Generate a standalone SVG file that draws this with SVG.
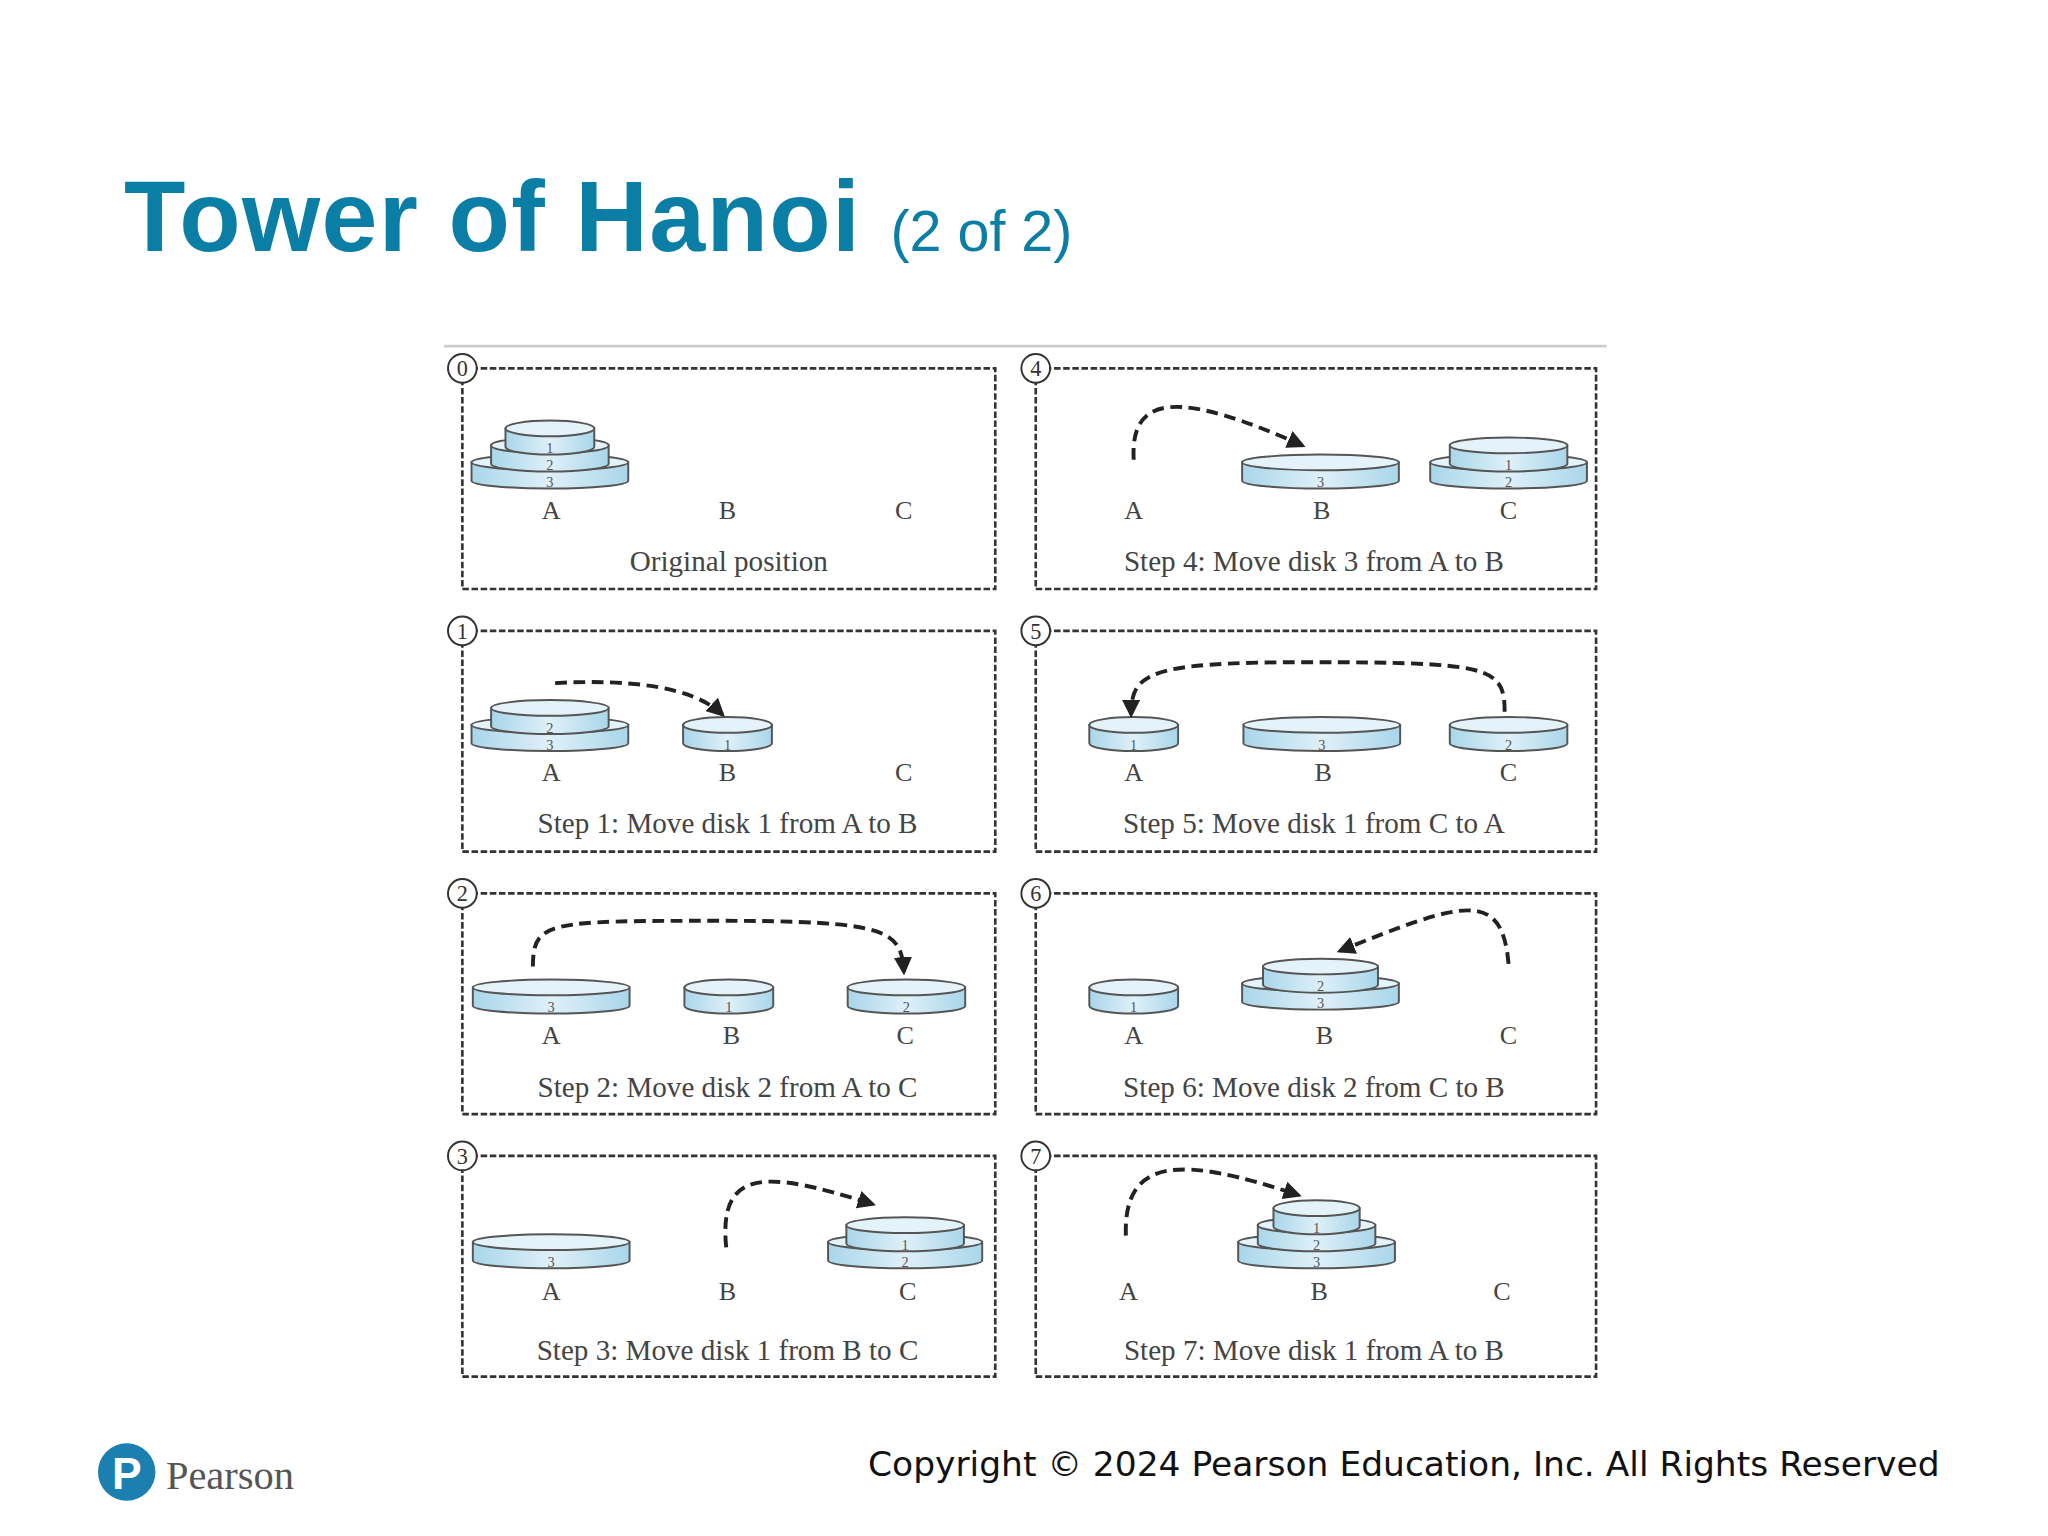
<svg xmlns="http://www.w3.org/2000/svg" width="2048" height="1536" viewBox="0 0 2048 1536">
<style>
.box{fill:none;stroke:#333;stroke-width:2;stroke-dasharray:5 2}
.num circle{fill:#fff;stroke:#333;stroke-width:1.5}
.num text{font-family:"Liberation Serif",serif;font-size:17px;text-anchor:middle;fill:#333}
.lbl{font-family:"Liberation Serif",serif;font-size:20px;text-anchor:middle;fill:#444}
.cap{font-family:"Liberation Serif",serif;font-size:22.3px;text-anchor:middle;fill:#444}
.disk path{fill:url(#dg);stroke:#555;stroke-width:1.5}
.disk ellipse{fill:#e4f3fa;stroke:#555;stroke-width:1.5}
.disk text{font-family:"Liberation Serif",serif;font-size:11px;text-anchor:middle;fill:#555}
.arr{fill:none;stroke:#222;stroke-width:3;stroke-dasharray:9 5;marker-end:url(#ah)}
</style>
<defs>
<linearGradient id="dg" x1="0" x2="1" y1="0" y2="0"><stop offset="0" stop-color="#a9d6ea"/><stop offset="0.5" stop-color="#dff0f8"/><stop offset="1" stop-color="#a9d6ea"/></linearGradient>
<marker id="ah" viewBox="0 0 10 10" refX="8" refY="5" markerWidth="14" markerHeight="14" markerUnits="userSpaceOnUse" orient="auto"><path d="M0,0 L10,5 L0,10 z" fill="#222"/></marker>
</defs>
<rect width="2048" height="1536" fill="#fff"/>
<g transform="scale(1.30612)">
<text x="95" y="192" font-family="Liberation Sans,Arial,sans-serif" font-weight="bold" font-size="77" letter-spacing="1" fill="#0a7ea4">Tower of Hanoi <tspan font-weight="normal" font-size="44" letter-spacing="0">(2 of 2)</tspan></text>
<line x1="340" y1="265" x2="1230" y2="265" stroke="#ccc" stroke-width="2"/>

<g id="box0"><rect class="box" x="354" y="282" width="408" height="169"/><g class="num"><circle cx="354" cy="282" r="11"/><text x="354" y="288">0</text></g>
<text class="lbl" x="422" y="397">A</text><text class="lbl" x="557" y="397">B</text><text class="lbl" x="692" y="397">C</text><text class="cap" x="558" y="437">Original position</text>
<g class="disk"><path d="M361,354 v14 a60,6 0 0 0 120,0 v-14 z"/><ellipse cx="421" cy="354" rx="60" ry="6"/><text x="421" y="373">3</text></g>
<g class="disk"><path d="M376,341 v14 a45,6 0 0 0 90,0 v-14 z"/><ellipse cx="421" cy="341" rx="45" ry="6"/><text x="421" y="360">2</text></g>
<g class="disk"><path d="M387,328 v14 a34,6 0 0 0 68,0 v-14 z"/><ellipse cx="421" cy="328" rx="34" ry="6"/><text x="421" y="347">1</text></g>
</g>

<g id="box1"><rect class="box" x="354" y="483" width="408" height="169"/><g class="num"><circle cx="354" cy="483" r="11"/><text x="354" y="489">1</text></g>
<text class="lbl" x="422" y="598">A</text><text class="lbl" x="557" y="598">B</text><text class="lbl" x="692" y="598">C</text><text class="cap" x="557" y="638">Step 1: Move disk 1 from A to B</text>
<g class="disk"><path d="M361,555 v14 a60,6 0 0 0 120,0 v-14 z"/><ellipse cx="421" cy="555" rx="60" ry="6"/><text x="421" y="574">3</text></g>
<g class="disk"><path d="M376,542 v14 a45,6 0 0 0 90,0 v-14 z"/><ellipse cx="421" cy="542" rx="45" ry="6"/><text x="421" y="561">2</text></g>
<g class="disk"><path d="M523,555 v14 a34,6 0 0 0 68,0 v-14 z"/><ellipse cx="557" cy="555" rx="34" ry="6"/><text x="557" y="574">1</text></g>
</g>

<g id="box2"><rect class="box" x="354" y="684" width="408" height="169"/><g class="num"><circle cx="354" cy="684" r="11"/><text x="354" y="690">2</text></g>
<text class="lbl" x="422" y="799">A</text><text class="lbl" x="560" y="799">B</text><text class="lbl" x="693" y="799">C</text><text class="cap" x="557" y="840">Step 2: Move disk 2 from A to C</text>
<g class="disk"><path d="M362,756 v14 a60,6 0 0 0 120,0 v-14 z"/><ellipse cx="422" cy="756" rx="60" ry="6"/><text x="422" y="775">3</text></g>
<g class="disk"><path d="M524,756 v14 a34,6 0 0 0 68,0 v-14 z"/><ellipse cx="558" cy="756" rx="34" ry="6"/><text x="558" y="775">1</text></g>
<g class="disk"><path d="M649,756 v14 a45,6 0 0 0 90,0 v-14 z"/><ellipse cx="694" cy="756" rx="45" ry="6"/><text x="694" y="775">2</text></g>
</g>

<g id="box3"><rect class="box" x="354" y="885" width="408" height="169"/><g class="num"><circle cx="354" cy="885" r="11"/><text x="354" y="891">3</text></g>
<text class="lbl" x="422" y="995">A</text><text class="lbl" x="557" y="995">B</text><text class="lbl" x="695" y="995">C</text><text class="cap" x="557" y="1041">Step 3: Move disk 1 from B to C</text>
<g class="disk"><path d="M362,951 v14 a60,6 0 0 0 120,0 v-14 z"/><ellipse cx="422" cy="951" rx="60" ry="6"/><text x="422" y="970">3</text></g>
<g class="disk"><path d="M634,951 v14 a59,6 0 0 0 118,0 v-14 z"/><ellipse cx="693" cy="951" rx="59" ry="6"/><text x="693" y="970">2</text></g>
<g class="disk"><path d="M648,938 v14 a45,6 0 0 0 90,0 v-14 z"/><ellipse cx="693" cy="938" rx="45" ry="6"/><text x="693" y="957">1</text></g>
</g>

<g id="box4"><rect class="box" x="793" y="282" width="429" height="169"/><g class="num"><circle cx="793" cy="282" r="11"/><text x="793" y="288">4</text></g>
<text class="lbl" x="868" y="397">A</text><text class="lbl" x="1012" y="397">B</text><text class="lbl" x="1155" y="397">C</text><text class="cap" x="1006" y="437">Step 4: Move disk 3 from A to B</text>
<g class="disk"><path d="M951,354 v14 a60,6 0 0 0 120,0 v-14 z"/><ellipse cx="1011" cy="354" rx="60" ry="6"/><text x="1011" y="373">3</text></g>
<g class="disk"><path d="M1095,354 v14 a60,6 0 0 0 120,0 v-14 z"/><ellipse cx="1155" cy="354" rx="60" ry="6"/><text x="1155" y="373">2</text></g>
<g class="disk"><path d="M1110,341 v14 a45,6 0 0 0 90,0 v-14 z"/><ellipse cx="1155" cy="341" rx="45" ry="6"/><text x="1155" y="360">1</text></g>
</g>

<g id="box5"><rect class="box" x="793" y="483" width="429" height="169"/><g class="num"><circle cx="793" cy="483" r="11"/><text x="793" y="489">5</text></g>
<text class="lbl" x="868" y="598">A</text><text class="lbl" x="1013" y="598">B</text><text class="lbl" x="1155" y="598">C</text><text class="cap" x="1006" y="638">Step 5: Move disk 1 from C to A</text>
<g class="disk"><path d="M834,555 v14 a34,6 0 0 0 68,0 v-14 z"/><ellipse cx="868" cy="555" rx="34" ry="6"/><text x="868" y="574">1</text></g>
<g class="disk"><path d="M952,555 v14 a60,6 0 0 0 120,0 v-14 z"/><ellipse cx="1012" cy="555" rx="60" ry="6"/><text x="1012" y="574">3</text></g>
<g class="disk"><path d="M1110,555 v14 a45,6 0 0 0 90,0 v-14 z"/><ellipse cx="1155" cy="555" rx="45" ry="6"/><text x="1155" y="574">2</text></g>
</g>

<g id="box6"><rect class="box" x="793" y="684" width="429" height="169"/><g class="num"><circle cx="793" cy="684" r="11"/><text x="793" y="690">6</text></g>
<text class="lbl" x="868" y="799">A</text><text class="lbl" x="1014" y="799">B</text><text class="lbl" x="1155" y="799">C</text><text class="cap" x="1006" y="840">Step 6: Move disk 2 from C to B</text>
<g class="disk"><path d="M834,756 v14 a34,6 0 0 0 68,0 v-14 z"/><ellipse cx="868" cy="756" rx="34" ry="6"/><text x="868" y="775">1</text></g>
<g class="disk"><path d="M951,753 v14 a60,6 0 0 0 120,0 v-14 z"/><ellipse cx="1011" cy="753" rx="60" ry="6"/><text x="1011" y="772">3</text></g>
<g class="disk"><path d="M967,740 v14 a44,6 0 0 0 88,0 v-14 z"/><ellipse cx="1011" cy="740" rx="44" ry="6"/><text x="1011" y="759">2</text></g>
</g>

<g id="box7"><rect class="box" x="793" y="885" width="429" height="169"/><g class="num"><circle cx="793" cy="885" r="11"/><text x="793" y="891">7</text></g>
<text class="lbl" x="864" y="995">A</text><text class="lbl" x="1010" y="995">B</text><text class="lbl" x="1150" y="995">C</text><text class="cap" x="1006" y="1041">Step 7: Move disk 1 from A to B</text>
<g class="disk"><path d="M948,951 v14 a60,6 0 0 0 120,0 v-14 z"/><ellipse cx="1008" cy="951" rx="60" ry="6"/><text x="1008" y="970">3</text></g>
<g class="disk"><path d="M963,938 v14 a45,6 0 0 0 90,0 v-14 z"/><ellipse cx="1008" cy="938" rx="45" ry="6"/><text x="1008" y="957">2</text></g>
<g class="disk"><path d="M975,925 v14 a33,6 0 0 0 66,0 v-14 z"/><ellipse cx="1008" cy="925" rx="33" ry="6"/><text x="1008" y="944">1</text></g>
</g>

<g id="connectors">
<path class="arr" d="M425,523 C480,520 530,525 553,547"/>
<path class="arr" d="M408,740 C408,705 420,705 550,705 C680,705 690,712 692,744"/>
<path class="arr" d="M556,955 C550,895 585,895 668,922"/>
<path class="arr" d="M868,352 C865,300 905,300 997,341"/>
<path class="arr" d="M1152,545 C1152,510 1140,507 1000,507 C880,507 866,515 866,547"/>
<path class="arr" d="M1155,738 C1150,680 1120,690 1026,728"/>
<path class="arr" d="M862,946 C860,885 905,885 994,915"/>
</g>

<g id="footer">
<circle cx="97" cy="1127" r="22" fill="#1b7fb0"/>
<text x="97" y="1140" font-family="Liberation Sans,sans-serif" font-weight="bold" font-size="34" fill="#fff" text-anchor="middle">P</text>
<text x="127" y="1140" font-family="Liberation Serif,serif" font-size="31" fill="#555">Pearson</text>
<text x="1485" y="1130" font-family="DejaVu Sans,sans-serif" font-size="26.4" fill="#111" text-anchor="end">Copyright © 2024 Pearson Education, Inc. All Rights Reserved</text>
</g>
</g>
</svg>
